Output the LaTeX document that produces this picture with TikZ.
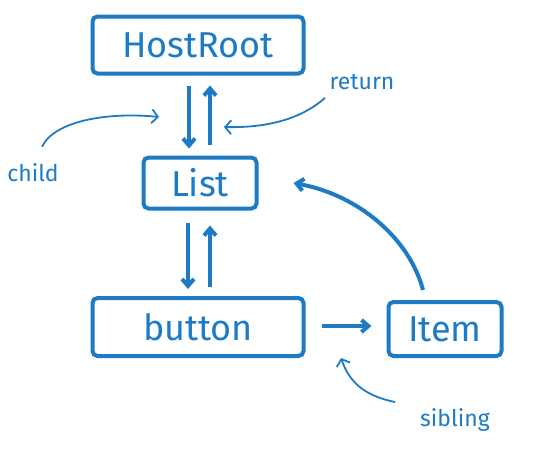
\documentclass[tikz,border=0pt]{standalone}
\usepackage{fontspec}
\setmainfont{Fira Sans}
\usetikzlibrary{arrows.meta}
\definecolor{ink}{HTML}{1C7BC4}
\begin{document}
\begin{tikzpicture}[x=1pt,y=-1pt,
  box/.style={draw=ink,line width=4pt,rounded corners=5pt,text=ink,font=\fontsize{36}{38}\selectfont,inner sep=0pt},
  lbl/.style={text=ink,font=\fontsize{23}{25}\selectfont,inner sep=0pt},
  bold/.style={draw=ink,line width=4pt,-{Straight Barb[length=7pt,width=12pt,line width=4pt]}},
  thin/.style={draw=ink,line width=1.8pt,-{Straight Barb[length=6pt,width=14pt,line width=1.8pt]}}]
\useasboundingbox (0,0) rectangle (550,456);
\node[box,minimum width=211pt,minimum height=57pt] (host) at (198,45) {HostRoot};
\node[box,minimum width=113pt,minimum height=51pt] (list) at (200,183) {List};
\node[box,minimum width=211pt,minimum height=58pt] (button) at (198,327) {button};
\node[box,minimum width=113pt,minimum height=54pt] (item) at (445,329) {Item};
\node[lbl] (child) at (33,173) {child};
\node[lbl] (return) at (362,82) {return};
\node[lbl] (sibling) at (455,420) {sibling};
% vertical arrows
\draw[bold] ([shift={(0,10)}]host.south -| 189,0) -- ([shift={(0,-7)}]list.north -| 189,0);
\draw[bold] ([shift={(0,-11)}]list.north -| 210,0) -- ([shift={(0,10)}]host.south -| 210,0);
\draw[bold] ([shift={(0,12)}]list.south -| 188,0) -- ([shift={(0,-7)}]button.north -| 188,0);
\draw[bold] ([shift={(0,-9)}]button.north -| 210,0) -- ([shift={(0,15)}]list.south -| 210,0);
% sibling arrow
\draw[bold] ([shift={(16,0)}]button.east |- 0,326) -- ([shift={(-15,0)}]item.west |- 0,326);
% item to list
\draw[bold] ([shift={(-22,-10)}]item.north) .. controls (410,240) and (360,195) .. ([shift={(35,0)}]list.east);
% labels
\draw[thin] ([shift={(9,-17)}]child.north) .. controls (55,120) and (110,112) .. (159,117);
\draw[thin] ([shift={(-37,8)}]return.south) .. controls (300,120) and (265,128) .. (224,127);
\draw[thin] ([shift={(-25,-18)}]sibling.west) .. controls (360,395) and (348,378) .. (341,358);
\end{tikzpicture}
\end{document}
